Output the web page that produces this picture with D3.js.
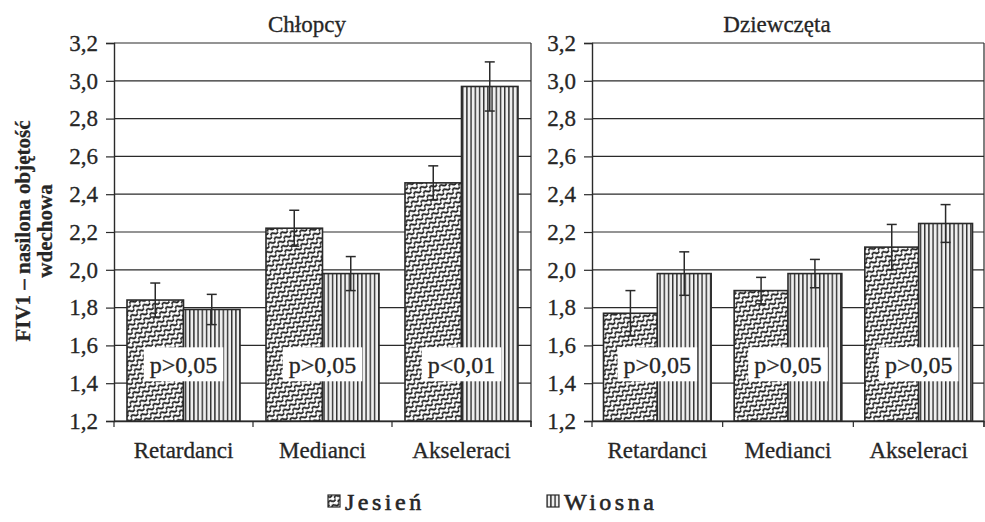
<!DOCTYPE html>
<html><head><meta charset="utf-8">
<script src="https://cdn.jsdelivr.net/npm/d3@7"></script>
<style>
html,body{margin:0;padding:0;background:#fff;}
svg{display:block;font-family:"Liberation Serif",serif;}
svg text{font-family:"Liberation Serif",serif;fill:#262626;stroke:#262626;stroke-width:0.3px;}
</style></head>
<body>
<svg id="chart" width="985" height="522"></svg>
<script>
const categories = ["Retardanci", "Medianci", "Akseleraci"];
const seriesNames = ["Jesień", "Wiosna"];
const panelTitles = ["Chłopcy", "Dziewczęta"];
const boysJesien = [1.84, 2.22, 2.46];
const boysWiosna = [1.79, 1.98, 2.97];
const boysJesienErr = [0.09, 0.095, 0.09];
const boysWiosnaErr = [0.08, 0.09, 0.13];
const girlsJesien = [1.77, 1.89, 2.12];
const girlsWiosna = [1.98, 1.98, 2.245];
const girlsJesienErr = [0.12, 0.07, 0.12];
const girlsWiosnaErr = [0.115, 0.075, 0.10];
const boysP = ["p>0,05", "p>0,05", "p<0,01"];
const girlsP = ["p>0,05", "p>0,05", "p>0,05"];
const yTicks = [1.2, 1.4, 1.6, 1.8, 2.0, 2.2, 2.4, 2.6, 2.8, 3.0, 3.2];
const yLabelLines = ["FIV1 – nasilona objętość", "wdechowa"];
const pLabelLevel = 1.5;

const svg = d3.select("#chart");
const ink = "#2a2a2a";
const serif = '"Liberation Serif", serif';
const defs = svg.append("defs");

// Jesień pattern: diagonal waves
const p1 = defs.append("pattern").attr("id", "patJ").attr("patternUnits", "userSpaceOnUse")
  .attr("width", 8).attr("height", 5.5).attr("patternTransform", "rotate(-40)");
p1.append("rect").attr("width", 8).attr("height", 5.5).attr("fill", "#fff");
p1.append("path").attr("d", "M-1,4 Q2,-0.5 4,3 T9,3").attr("fill", "none")
  .attr("stroke", "#1e1e1e").attr("stroke-width", 1.8);
// Wiosna pattern: vertical lines
const p2 = defs.append("pattern").attr("id", "patW").attr("patternUnits", "userSpaceOnUse")
  .attr("width", 4.2).attr("height", 4);
p2.append("rect").attr("width", 4.2).attr("height", 4).attr("fill", "#eeeeee");
p2.append("rect").attr("x", 0).attr("width", 1.4).attr("height", 4).attr("fill", "#2e2e2e");
const fills = ["url(#patJ)", "url(#patW)"];

const y = d3.scaleLinear().domain([1.2, 3.2]).range([421, 43]);
const fmt = v => d3.format(".1f")(v).replace(".", ",");

const panels = [
  {title: panelTitles[0], tx: 307, range: [114, 531], pad: 0.187, vals: [boysJesien, boysWiosna], errs: [boysJesienErr, boysWiosnaErr], p: boysP},
  {title: panelTitles[1], tx: 777, range: [592, 984], pad: 0.176, vals: [girlsJesien, girlsWiosna], errs: [girlsJesienErr, girlsWiosnaErr], p: girlsP}
];

panels.forEach(pn => {
  const x0 = d3.scaleBand().domain(categories).range(pn.range).paddingInner(pn.pad).paddingOuter(pn.pad / 2);
  const x1 = d3.scaleBand().domain(seriesNames).range([0, x0.bandwidth()]);
  const g = svg.append("g");
  const [L, R] = pn.range;

  // gridlines
  g.append("g").selectAll("line").data(yTicks).join("line")
    .attr("x1", L).attr("x2", R).attr("y1", d => y(d)).attr("y2", d => y(d))
    .attr("stroke", ink).attr("stroke-width", 1.2);
  // right border
  g.append("line").attr("x1", R).attr("x2", R).attr("y1", y(3.2)).attr("y2", y(1.2) + 6)
    .attr("stroke", ink).attr("stroke-width", 1.2);

  // y axis
  const ya = g.append("g").attr("transform", `translate(${L},0)`)
    .call(d3.axisLeft(y).tickValues(yTicks).tickFormat(fmt).tickSize(8).tickPadding(8));
  ya.attr("font-family", null);
  ya.select(".domain").attr("stroke", ink).attr("stroke-width", 1.4);
  ya.selectAll(".tick line").attr("stroke", ink).attr("stroke-width", 1.2);
  ya.selectAll(".tick text").attr("font-size", 23).style("font-family", serif).attr("fill", ink);

  // x axis
  const xa = g.append("g").attr("transform", `translate(0,${y(1.2)})`)
    .call(d3.axisBottom(x0).tickSize(0).tickPadding(21));
  xa.attr("font-family", null);
  xa.select(".domain").attr("stroke", ink).attr("stroke-width", 1.4);
  xa.selectAll(".tick text").attr("font-size", 23).style("font-family", serif).attr("fill", ink);
  // category boundary ticks
  const bounds = categories.map(c => x0(c) - x0.step() * x0.paddingInner() / 2).concat([R]);
  bounds[0] = L;
  g.append("g").selectAll("line").data(bounds).join("line")
    .attr("x1", d => d).attr("x2", d => d).attr("y1", y(1.2)).attr("y2", y(1.2) + 6)
    .attr("stroke", ink).attr("stroke-width", 1.2);

  // bars
  const rows = [];
  categories.forEach((c, i) => seriesNames.forEach((s, j) => rows.push({c, s, j, v: pn.vals[j][i], e: pn.errs[j][i]})));
  g.append("g").selectAll("rect").data(rows).join("rect")
    .attr("x", d => x0(d.c) + x1(d.s)).attr("width", x1.bandwidth())
    .attr("y", d => y(d.v)).attr("height", d => y(1.2) - y(d.v))
    .attr("fill", d => fills[d.j]).attr("stroke", ink).attr("stroke-width", 1.6);

  // error bars
  const eg = g.append("g").attr("stroke", ink).attr("stroke-width", 1.5);
  rows.forEach(d => {
    const cx = x0(d.c) + x1(d.s) + x1.bandwidth() / 2;
    eg.append("line").attr("x1", cx).attr("x2", cx).attr("y1", y(d.v - d.e)).attr("y2", y(d.v + d.e));
    eg.append("line").attr("x1", cx - 5).attr("x2", cx + 5).attr("y1", y(d.v + d.e)).attr("y2", y(d.v + d.e));
    eg.append("line").attr("x1", cx - 5).attr("x2", cx + 5).attr("y1", y(d.v - d.e)).attr("y2", y(d.v - d.e));
  });

  // p labels
  categories.forEach((c, i) => {
    const cx = x0(c) + x0.bandwidth() / 2;
    const t = g.append("text").attr("x", cx).attr("y", y(pLabelLevel)).attr("dy", "0.35em")
      .attr("text-anchor", "middle").attr("font-size", 24).style("font-family", serif).text(pn.p[i]);
    const bb = t.node().getBBox();
    g.insert("rect", () => t.node()).attr("x", cx - (bb.width + 12) / 2).attr("width", bb.width + 12)
      .attr("y", y(pLabelLevel) - 17).attr("height", 34).attr("fill", "#fff");
  });

  // title
  svg.append("text").attr("x", pn.tx).attr("y", 32).attr("text-anchor", "middle")
    .attr("font-size", 23).style("font-family", serif).text(pn.title);
});

// y label
const yl = svg.append("g").attr("transform", "translate(0,231) rotate(-90)");
yl.append("text").attr("x", 0).attr("y", 30).attr("text-anchor", "middle").style("font-family", serif)
  .attr("font-size", 21).attr("font-weight", "bold").text(yLabelLines[0]);
yl.append("text").attr("x", 0).attr("y", 52).attr("text-anchor", "middle").style("font-family", serif)
  .attr("font-size", 21).attr("font-weight", "bold").text(yLabelLines[1]);

// legend
const legX = [328, 547];
seriesNames.forEach((s, j) => {
  svg.append("rect").attr("x", legX[j]).attr("y", 495).attr("width", 12).attr("height", 12)
    .attr("fill", fills[j]).attr("stroke", ink).attr("stroke-width", 1.2);
  svg.append("text").attr("x", legX[j] + 17).attr("y", 510).attr("font-size", 24).style("font-family", serif)
    .attr("letter-spacing", 3.5).style("stroke-width", "0.6px").text(s);
});
</script>
</body></html>
